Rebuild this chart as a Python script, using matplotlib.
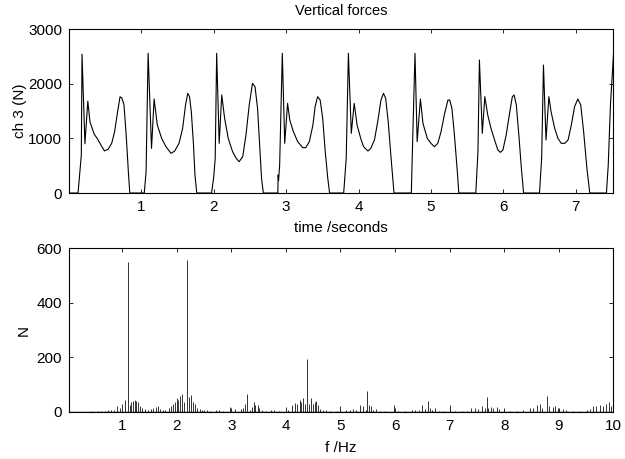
"Vertical force record and its amplitude spectrum"

import matplotlib
matplotlib.use("Agg")
import matplotlib.pyplot as plt

plt.rcParams['font.family'] = ['Liberation Sans', 'DejaVu Sans']
plt.rcParams['font.size'] = 11

# time trace, channel 3 (one row per footstep)
time_s = [
    0.0,
    0.125, 0.17, 0.18, 0.22, 0.26, 0.29, 0.35, 0.39, 0.44, 0.49, 0.54, 0.59, 0.63, 0.67, 0.705, 0.73, 0.76, 0.79, 0.82, 0.84,
    1.04, 1.065, 1.093, 1.14, 1.176, 1.22, 1.28, 1.34, 1.41, 1.46, 1.52, 1.57, 1.61, 1.64, 1.665, 1.69, 1.72, 1.74, 1.765,
    1.97, 2.0, 2.02, 2.04, 2.075, 2.11, 2.15, 2.2, 2.26, 2.31, 2.35, 2.4, 2.445, 2.49, 2.535, 2.57, 2.605, 2.64, 2.66, 2.685,
    2.885, 2.89, 2.895, 2.91, 2.947, 2.98, 3.02, 3.05, 3.10, 3.16, 3.23, 3.27, 3.32, 3.37, 3.40, 3.435, 3.47, 3.505, 3.54, 3.575, 3.6,
    3.795, 3.83, 3.86, 3.9, 3.94, 3.98, 4.03, 4.07, 4.13, 4.17, 4.22, 4.265, 4.31, 4.345, 4.375, 4.41, 4.45, 4.49,
    4.73, 4.735, 4.78, 4.81, 4.855, 4.89, 4.95, 5.0, 5.05, 5.095, 5.14, 5.19, 5.235, 5.26, 5.29, 5.325, 5.365, 5.385,
    5.62, 5.65, 5.67, 5.71, 5.745, 5.785, 5.83, 5.88, 5.925, 5.96, 5.995, 6.04, 6.09, 6.125, 6.15, 6.18, 6.215, 6.25, 6.28,
    6.50, 6.53, 6.555, 6.59, 6.63, 6.66, 6.71, 6.755, 6.80, 6.85, 6.895, 6.94, 6.985, 7.03, 7.07, 7.11, 7.155, 7.195,
    7.425, 7.45, 7.48, 7.53,
]
force_n = [
    0,
    0, 690, 2540, 900, 1680, 1300, 1070, 1000, 880, 770, 800, 910, 1120, 1475, 1760, 1740, 1610, 1060, 390, 0,
    0, 390, 2555, 817, 1720, 1244, 1000, 847, 726, 768, 909, 1183, 1610, 1823, 1762, 1487, 878, 330, 0,
    0, 300, 635, 2555, 909, 1793, 1366, 1000, 756, 635, 573, 664, 1061, 1610, 2006, 1945, 1549, 756, 270, 0,
    0, 330, 230, 500, 2555, 909, 1640, 1335, 1122, 938, 829, 829, 938, 1244, 1580, 1762, 1700, 1366, 756, 270, 0,
    0, 635, 2555, 1092, 1640, 1244, 1000, 847, 768, 817, 970, 1304, 1700, 1823, 1732, 1304, 635, 0,
    0, 300, 2555, 938, 1720, 1275, 1000, 909, 847, 909, 1122, 1457, 1700, 1700, 1549, 1061, 390, 0,
    0, 756, 2433, 1092, 1762, 1427, 1183, 970, 787, 744, 787, 1061, 1487, 1762, 1793, 1610, 1061, 452, 0,
    0, 635, 2341, 970, 1762, 1487, 1183, 1000, 909, 909, 970, 1244, 1580, 1720, 1610, 1122, 452, 0,
    0, 512, 1600, 2700,
]

# spectrum lines (frequency in Hz, amplitude in N)
freq_hz = [
    0.45, 0.55, 0.62, 0.68, 0.74, 0.80, 0.85,
    0.90, 0.96, 1.00, 1.05, 1.10, 1.14, 1.17, 1.20, 1.23, 1.26, 1.29, 1.33, 1.37, 1.42,
    1.48, 1.53, 1.57, 1.62, 1.65, 1.70, 1.74, 1.79, 1.85, 1.90,
    1.94, 1.97, 2.00, 2.03, 2.06, 2.10, 2.14, 2.19, 2.23, 2.26, 2.30, 2.33, 2.37, 2.42, 2.47,
    2.49, 2.56, 2.60, 2.72, 2.77, 2.85, 2.975, 3.00, 3.07,
    3.18, 3.21, 3.25, 3.29, 3.34, 3.38, 3.41, 3.44, 3.48, 3.51, 3.56,
    3.63, 3.72, 3.78, 3.87, 4.00, 4.04, 4.11, 4.17, 4.20, 4.25, 4.28, 4.32, 4.35, 4.39,
    4.43, 4.46, 4.50, 4.53, 4.56, 4.59, 4.63, 4.68, 4.74, 4.81,
    4.93, 4.99, 5.11, 5.17, 5.23, 5.29, 5.36, 5.41, 5.46, 5.49, 5.52, 5.56, 5.60, 5.66,
    5.72, 5.81, 5.99, 6.06, 6.19, 6.31, 6.37, 6.43, 6.50, 6.55, 6.60, 6.64, 6.68, 6.74,
    6.80, 6.88, 7.01, 7.10, 7.22, 7.31,
    7.40, 7.46, 7.52, 7.59, 7.64, 7.68, 7.71, 7.76, 7.80, 7.86, 7.91, 7.99,
    8.11, 8.23, 8.35, 8.47, 8.53, 8.60, 8.65, 8.70, 8.79, 8.83, 8.89, 8.94, 8.98,
    9.08, 9.14, 9.26, 9.38, 9.51, 9.57, 9.63, 9.69, 9.75, 9.81, 9.87, 9.92, 9.96,
]
amp_n = [
    3, 3, 4, 3, 5, 6, 8,
    21, 15, 30, 43, 551, 24, 37, 40, 43, 39, 34, 22, 12, 10,
    6, 10, 15, 17, 20, 10, 6, 8, 15, 22,
    30, 37, 49, 43, 59, 64, 37, 557, 55, 61, 37, 30, 15, 10, 8,
    7, 5, 3, 6, 5, 3, 18, 8, 10,
    10, 15, 30, 65, 8, 18, 34, 24, 24, 12, 6,
    4, 5, 6, 4, 18, 8, 24, 33, 27, 43, 37, 49, 30, 192,
    30, 49, 30, 37, 39, 24, 10, 6, 5, 4,
    3, 21, 5, 8, 10, 8, 24, 22, 8, 76, 24, 22, 8, 10,
    3, 3, 24, 4, 3, 6, 8, 5, 24, 10, 40, 12, 6, 12,
    4, 3, 24, 3, 4, 3,
    12, 12, 10, 20, 15, 55, 15, 18, 12, 18, 10, 5,
    4, 4, 5, 12, 15, 25, 28, 15, 57, 20, 18, 20, 15,
    10, 5, 4, 4, 6, 10, 20, 20, 25, 20, 30, 35, 20,
]


def style_axes(ax):
    ax.tick_params(direction="in", top=True, right=True, length=3, width=0.6, pad=5)
    for sp in ax.spines.values():
        sp.set_linewidth(0.8)


fig = plt.figure(figsize=(6.25, 4.59), dpi=100)
ax1 = fig.add_axes([0.1104, 0.5795, 0.8709, 0.3573])
ax2 = fig.add_axes([0.1104, 0.1030, 0.8709, 0.3560])

ax1.plot(time_s, force_n, color="k", lw=0.8)
ax1.set_xlim(0, 7.52)
ax1.set_ylim(0, 3000)
ax1.set_xticks(range(1, 8))
ax1.set_yticks([0, 1000, 2000, 3000])
ax1.set_title("Vertical forces", pad=10, fontsize=10.5)
ax1.set_xlabel("time /seconds", labelpad=5)
ax1.set_ylabel("ch 3 (N)", labelpad=1)
style_axes(ax1)

ax2.vlines(freq_hz, 0, amp_n, color="0.2", lw=0.7)
ax2.axhline(0, color="k", lw=1.0)
ax2.set_xlim(0.025, 10)
ax2.set_ylim(0, 600)
ax2.set_xticks(range(1, 11))
ax2.set_yticks([0, 200, 400, 600])
ax2.set_xlabel("f /Hz", labelpad=6)
ax2.set_ylabel("N", labelpad=4)
style_axes(ax2)

fig.savefig("out.png", dpi=100)
